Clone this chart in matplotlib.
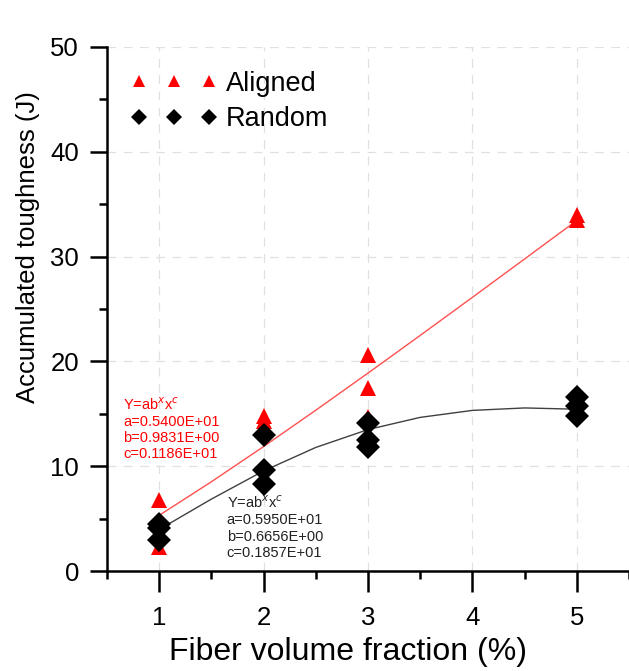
import numpy as np
import matplotlib.pyplot as plt

plt.rcParams['font.family'] = ['Liberation Sans', 'DejaVu Sans']
plt.rcParams['mathtext.fontset'] = 'custom'
plt.rcParams['mathtext.rm'] = 'Liberation Sans'

# measured points
aligned_x = [1, 1, 2, 2, 3, 3, 3, 5, 5]
aligned_y = [6.8, 2.3, 14.8, 14.3, 20.6, 17.5, 14.7, 34.0, 33.5]
random_x = [1, 1, 1, 2, 2, 2, 3, 3, 3, 5, 5, 5]
random_y = [4.5, 4.1, 3.0, 13.0, 9.6, 8.3, 14.1, 12.5, 11.8, 16.6, 15.7, 14.8]

# fit parameters, Y = a * b^x * x^c
fit_aligned = (5.400, 0.9831, 1.186)
fit_random = (5.950, 0.6656, 1.857)


def fit(p, x):
    a, b, c = p
    return a * b ** x * x ** c


xf = np.linspace(1, 5, 9)

fig = plt.figure(figsize=(6.29, 6.71), dpi=100)
ax = fig.add_axes([0.170, 0.149, 0.830, 0.781])

ax.plot(xf, fit(fit_aligned, xf), '-', color='#ff5050', lw=1.0, zorder=2)
ax.plot(xf, fit(fit_random, xf), '-', color='#404040', lw=1.0, zorder=2)
ax.plot(aligned_x, aligned_y, '^', color='red', ms=12, mew=0, ls='none',
        label='Aligned', zorder=3)
ax.plot(random_x, random_y, 'D', color='black', ms=12, mew=0, ls='none',
        label='Random', zorder=4)

ax.set_xlim(0.5, 5.5)
ax.set_ylim(0, 50)
ax.set_xticks([1, 2, 3, 4, 5])
ax.set_xticks(np.arange(0.5, 5.6, 1.0), minor=True)
ax.set_yticks(np.arange(0, 51, 10))
ax.set_yticks(np.arange(5, 50, 10), minor=True)

ax.spines['top'].set_visible(False)
ax.spines['right'].set_visible(False)
for s in ['left', 'bottom']:
    ax.spines[s].set_linewidth(1.8)

ax.tick_params(axis='both', which='major', direction='out', width=1.8,
               labelsize=18.5)
ax.tick_params(axis='x', which='major', length=15, pad=10)
ax.tick_params(axis='y', which='major', length=12, pad=8)
ax.tick_params(axis='both', which='minor', direction='out', width=1.8,
               length=6)

ax.grid(True, which='major', ls=(0, (7, 6)), color='#e0e0e0', lw=0.9)
ax.set_axisbelow(True)

ax.set_xlabel('Fiber volume fraction (%)', fontsize=23)
ax.xaxis.set_label_coords(0.462, -0.125)
ax.set_ylabel('Accumulated toughness (J)', fontsize=18.5)
ax.yaxis.set_label_coords(-0.128, 0.618)

ax.legend(loc='upper left', numpoints=3, frameon=False, fontsize=19.5,
          markerscale=0.7, handlelength=3.2, handletextpad=0.3,
          labelspacing=0.35, borderaxespad=0.0, bbox_to_anchor=(0.025, 0.975))

ax.text(0.653, 16.7,
        'Y=ab$^{x}$x$^{c}$\na=0.5400E+01\nb=0.9831E+00\nc=0.1186E+01',
        color='red', fontsize=10.5, va='top', ha='left', linespacing=1.2)
ax.text(1.648, 7.3,
        'Y=ab$^{x}$x$^{c}$\na=0.5950E+01\nb=0.6656E+00\nc=0.1857E+01',
        color='#222222', fontsize=10.5, va='top', ha='left', linespacing=1.2)

fig.savefig('out.png', dpi=100)
